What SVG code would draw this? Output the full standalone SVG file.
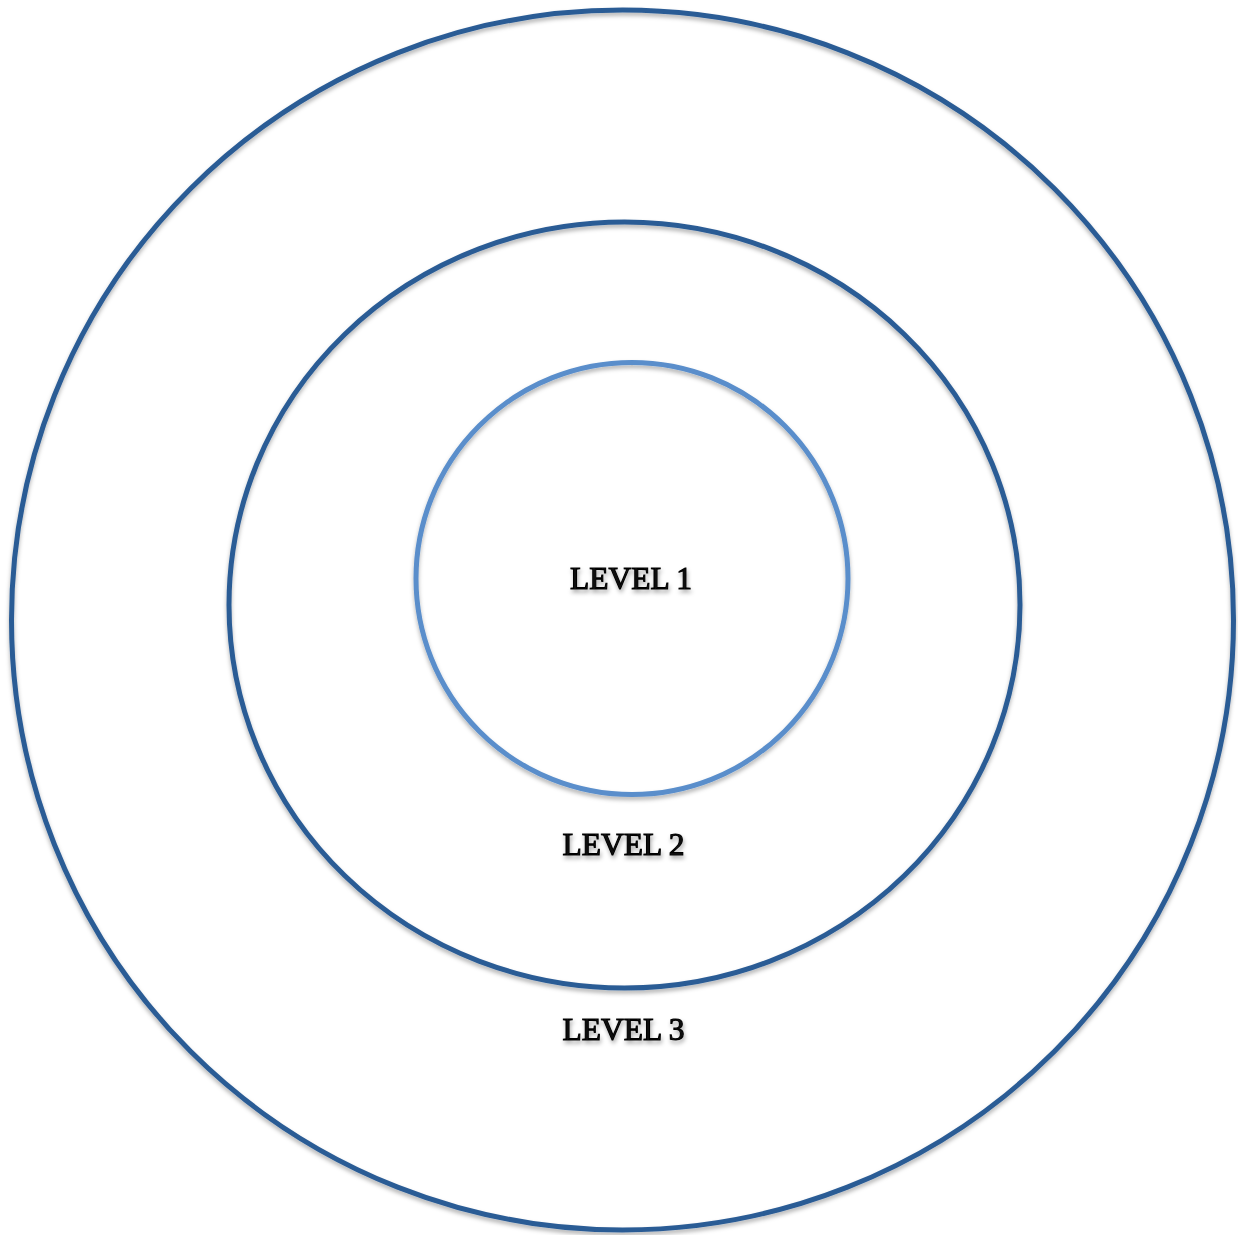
<svg xmlns="http://www.w3.org/2000/svg" width="1238" height="1235" viewBox="0 0 1238 1235">
  <style>
    .ring { fill: none; stroke-width: 5; filter: url(#shadow); }
    .dark { stroke: #2b5c95; }
    .light { stroke: #5a8ecb; }
    .label { font-family: "Liberation Serif", "Times New Roman", serif; font-size: 31.5px; fill: #111; stroke: #000; stroke-width: 1.1; text-anchor: middle; filter: url(#tshadow); }
  </style>
  <defs>
    <filter id="shadow" x="-5%" y="-5%" width="110%" height="110%">
      <feDropShadow dx="0" dy="3" stdDeviation="2" flood-color="#000" flood-opacity="0.3"/>
    </filter>
    <filter id="tshadow" x="-10%" y="-20%" width="120%" height="160%">
      <feDropShadow dx="1" dy="3" stdDeviation="2" flood-color="#000" flood-opacity="0.35"/>
    </filter>
  </defs>
  <rect width="1238" height="1235" fill="#fff"/>
  <g id="level3">
    <ellipse class="ring dark" cx="622.5" cy="620" rx="611" ry="610"/>
    <text class="label" x="623.5" y="1040">LEVEL 3</text>
  </g>
  <g id="level2">
    <ellipse class="ring dark" cx="624.5" cy="605" rx="395.5" ry="383"/>
    <text class="label" x="623.5" y="855">LEVEL 2</text>
  </g>
  <g id="level1">
    <ellipse class="ring light" cx="632" cy="578.5" rx="216" ry="216"/>
    <text class="label" x="631" y="589">LEVEL 1</text>
  </g>
  <g id="connectors"/>
</svg>
